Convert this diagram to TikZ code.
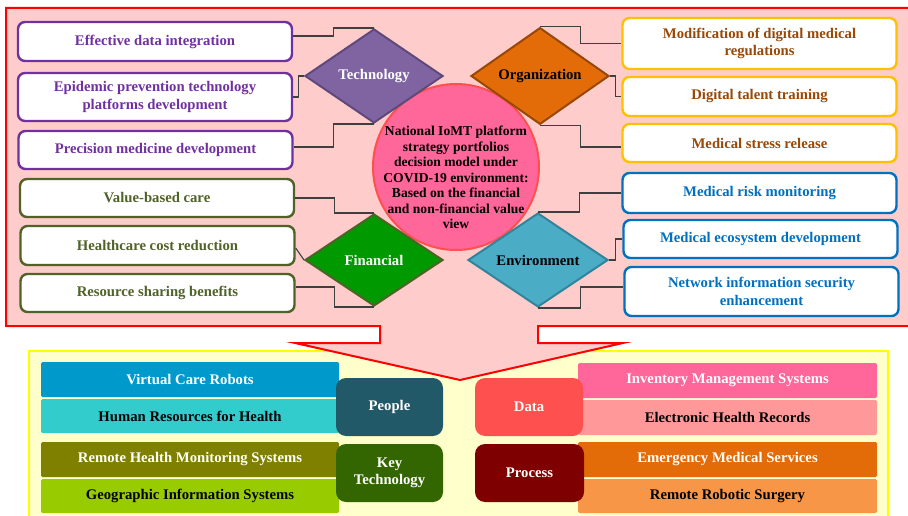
\documentclass[tikz,border=0pt]{standalone}
\usepackage{fontspec}
\setmainfont{Liberation Serif}
\usetikzlibrary{shapes.geometric,calc}

\definecolor{framered}{HTML}{FF0000}
\definecolor{framefill}{HTML}{FFCCCC}
\definecolor{baseyellow}{HTML}{FFFF00}
\definecolor{basefill}{HTML}{FFFFCC}
\definecolor{techpurple}{HTML}{7030A0}
\definecolor{techfill}{HTML}{8064A2}
\definecolor{techedge}{HTML}{5F497A}
\definecolor{finolive}{HTML}{4F6228}
\definecolor{finfill}{HTML}{009900}
\definecolor{orggold}{HTML}{FFC000}
\definecolor{orgtext}{HTML}{984807}
\definecolor{orgfill}{HTML}{E36C09}
\definecolor{orgedge}{HTML}{974806}
\definecolor{envblue}{HTML}{0070C0}
\definecolor{envfill}{HTML}{4BACC6}
\definecolor{envedge}{HTML}{31849B}
\definecolor{corefill}{HTML}{FF6699}
\definecolor{coreedge}{HTML}{FF5050}
\definecolor{linkgray}{HTML}{3F3F3F}
\definecolor{barA}{HTML}{0099CC}
\definecolor{barB}{HTML}{33CCCC}
\definecolor{barC}{HTML}{808000}
\definecolor{barD}{HTML}{99CC00}
\definecolor{barE}{HTML}{FF6699}
\definecolor{barF}{HTML}{FF9999}
\definecolor{barG}{HTML}{E36C09}
\definecolor{barH}{HTML}{F79646}
\definecolor{peoplefill}{HTML}{215968}
\definecolor{keyfill}{HTML}{336600}
\definecolor{datafill}{HTML}{FF5050}
\definecolor{processfill}{HTML}{7F0000}

\tikzset{
  txt/.style={font=\bfseries\fontsize{14.7}{17.7}\selectfont, align=center},
  itembox/.style={txt, draw, line width=2.4pt, fill=white, rounded corners=7pt,
    minimum width=274pt, inner sep=0pt},
  techitem/.style={itembox, draw=techpurple, text=techpurple},
  finitem/.style={itembox, draw=finolive, text=finolive},
  orgitem/.style={itembox, draw=orggold, text=orgtext},
  envitem/.style={itembox, draw=envblue, text=envblue},
  facet/.style={txt, diamond, line width=2pt, inner sep=0pt,
    minimum width=138pt, minimum height=94pt},
  link/.style={draw=linkgray, line width=1.1pt,
    to path={-| ($(\tikztostart)!0.5!(\tikztotarget)$) |- (\tikztotarget)}},
  bar/.style={font=\bfseries\fontsize{14.7}{17}\selectfont, rounded corners=1.5pt,
    minimum width=298pt, inner sep=0pt},
  pillar/.style={font=\bfseries\fontsize{14.7}{17}\selectfont, align=center,
    text=white, rounded corners=10pt, minimum width=107pt, minimum height=58pt,
    inner sep=0pt},
}

\begin{document}
\begin{tikzpicture}[x=1pt, y=-1pt]
\useasboundingbox (0,0) rectangle (908,516);
\clip (0,0) rectangle (908,516);

% lower panel
\fill[basefill] (29,351) rectangle (888,530);
\draw[baseyellow, line width=2pt] (29,530) -- (29,351) -- (888,351) -- (888,530);

% upper panel with its downward callout
\draw[framered, fill=framefill, line width=2pt, line join=miter]
  (6,8) -- (920,8) -- (920,326) -- (538,326) -- (538,343) -- (623,343)
  -- (460,380) -- (295,343) -- (380,343) -- (380,326) -- (6,326) -- cycle;

% centre
\node[circle, fill=corefill, draw=coreedge, line width=2pt,
      minimum size=166pt, inner sep=0pt] (core) at (456,167) {};
\node[font=\bfseries\fontsize{13.6}{15.5}\selectfont, align=center]
  (coretext) at ([yshift=-10.5pt]core.center)
  {National IoMT platform\\strategy portfolios\\decision model under\\COVID-19 environment:\\Based on the financial\\and non-financial value\\view};

% the four facets
\node[facet, fill=techfill, draw=techedge, text=white] (tech) at (374,76) {Technology};
\node[facet, fill=finfill, draw=finolive, text=white, minimum height=92pt] (fin) at (374,260) {Financial};
\node[facet, fill=orgfill, draw=orgedge, text=black] (org) at (540,76) {Organization};
\node[facet, fill=envfill, draw=envedge, text=black, minimum width=140pt] (env) at (538,260) {Environment};

% left items
\node[techitem, minimum height=39pt] (t1) at (155,41.5) {Effective data integration};
\node[techitem, minimum height=48pt] (t2) at (155,97) {Epidemic prevention technology\\platforms development};
\node[techitem, minimum height=38pt] (t3) at (155.5,150) {Precision medicine development};
\node[finitem, minimum height=38pt] (f1) at (157,198) {Value-based care};
\node[finitem, minimum height=39pt] (f2) at (157.5,245.5) {Healthcare cost reduction};
\node[finitem, minimum height=38pt] (f3) at (157.5,293) {Resource sharing benefits};

% right items
\node[orgitem, minimum height=51pt] (o1) at (759.5,43.5) {Modification of digital medical\\regulations};
\node[orgitem, minimum height=39pt] (o2) at (759.5,96.5) {Digital talent training};
\node[orgitem, minimum height=38pt] (o3) at (759.5,143) {Medical stress release};
\node[envitem, minimum height=40pt] (e1) at (759.5,193) {Medical risk monitoring};
\node[envitem, minimum height=38pt] (e2) at (760.5,239) {Medical ecosystem development};
\node[envitem, minimum height=49pt] (e3) at (761.5,291.5) {Network information security\\enhancement};

% elbow links
\draw[link] ([yshift=5.5pt]t1.east) to (tech.north);
\draw[link] (t2.east) to (tech.west);
\draw[link] ([yshift=3pt]t3.east) to (tech.south);
\draw[link] (f1.east) to (fin.north);
\draw[link] ([yshift=-2.5pt]f2.east) -- (fin.west);
\draw[link] ([yshift=6pt]f3.east) to (fin.south);
\draw[link] (org.north) to (o1.west);
\draw[link] (org.east) to (o2.west);
\draw[link] (org.south) to ([yshift=-4pt]o3.west);
\draw[link] (env.north) to (e1.west);
\draw[link] (env.east) to (e2.west);
\draw[link] (env.south) to ([yshift=4.5pt]e3.west);

% lower panel: bars
\node[bar, fill=barA, text=white, minimum height=35pt] (vcr) at (190,379.5) {Virtual Care Robots};
\node[bar, fill=barB, text=black, minimum height=34pt] (hrh) at (190,416) {Human Resources for Health};
\node[bar, fill=barC, text=white, minimum height=35pt] (rhm) at (190,459.5) {Remote Health Monitoring Systems};
\node[bar, fill=barD, text=black, minimum height=34pt] (gis) at (190,496) {Geographic Information Systems};
\node[bar, fill=barE, text=white, minimum height=35pt, minimum width=299pt] (ims) at (727.5,380.5) {Inventory Management Systems};
\node[bar, fill=barF, text=black, minimum height=35pt, minimum width=299pt] (ehr) at (727.5,417.5) {Electronic Health Records};
\node[bar, fill=barG, text=white, minimum height=35pt, minimum width=299pt] (ems) at (727.5,459.5) {Emergency Medical Services};
\node[bar, fill=barH, text=black, minimum height=34pt, minimum width=299pt] (rrs) at (727.5,496) {Remote Robotic Surgery};

% lower panel: pillars
\node[pillar, fill=peoplefill] (people) at (389.5,407) {People};
\node[pillar, fill=keyfill] (keytech) at (389.5,473) {Key\\Technology};
\node[pillar, fill=datafill, minimum width=108pt] (data) at (529,407) {Data};
\node[pillar, fill=processfill, minimum width=109pt] (process) at (529.5,473) {Process};
\end{tikzpicture}
\end{document}
